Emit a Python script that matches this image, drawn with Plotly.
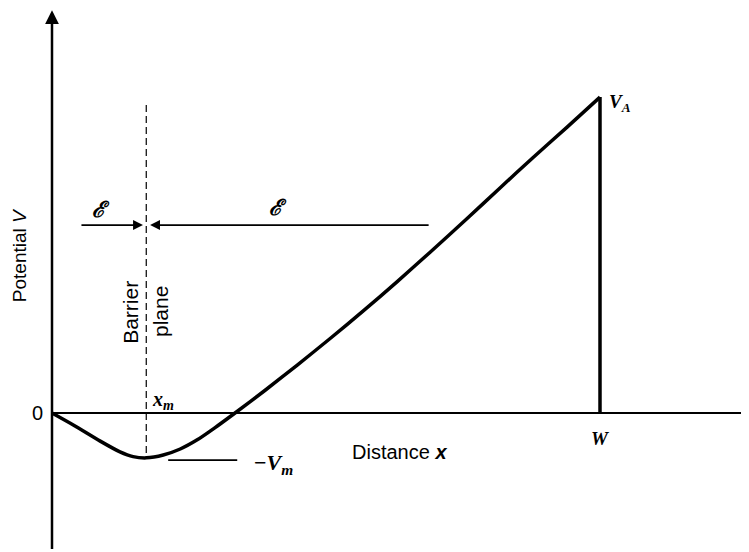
import plotly.graph_objects as go

# potential profile (x in units of W/10, V in units of V_A/10)
curve_x = [0, 0.42, 0.88, 1.24, 1.48, 1.72, 2.03, 2.34, 2.65, 2.97, 3.34,
           3.89, 4.47, 5.07, 5.68, 6.30, 6.90, 7.57, 8.18, 8.78, 9.40, 10.0]
curve_y = [0, -0.41, -0.89, -1.23, -1.38, -1.42, -1.33, -1.14, -0.85, -0.47, 0,
           0.72, 1.51, 2.35, 3.23, 4.16, 5.09, 6.15, 7.13, 8.09, 9.05, 10.0]

x_m = 1.72
v_m = -1.42
w = 10.0
v_a = 10.0

# arrow positions for the field labels
field_y = 5.95
left_arrow = [0.51, 1.66]
right_arrow = [6.90, 1.79]

SANS = "Liberation Sans"
SERIF = "Liberation Serif"

fig = go.Figure()

fig.add_trace(go.Scatter(
    x=curve_x, y=curve_y, mode="lines",
    line=dict(color="black", width=3.5, shape="spline", smoothing=0.7),
    hoverinfo="skip", showlegend=False,
))
# drop at the anode
fig.add_trace(go.Scatter(
    x=[w, w], y=[v_a, 0], mode="lines",
    line=dict(color="black", width=3.5), hoverinfo="skip", showlegend=False,
))
# barrier plane
fig.add_trace(go.Scatter(
    x=[x_m, x_m], y=[9.75, v_m], mode="lines",
    line=dict(color="black", width=1.2, dash="7px,4px"),
    hoverinfo="skip", showlegend=False,
))
# -V_m marker line
fig.add_trace(go.Scatter(
    x=[2.12, 3.38], y=[v_m - 0.07, v_m - 0.07], mode="lines",
    line=dict(color="black", width=1.8), hoverinfo="skip", showlegend=False,
))

arrow = dict(xref="x", yref="y", axref="x", ayref="y", text="",
             showarrow=True, arrowcolor="black")
annotations = [
    # axes
    dict(arrow, x=0, y=12.75, ax=0, ay=-4.35, arrowhead=2, arrowsize=1.1, arrowwidth=2.5),
    dict(arrow, x=12.65, y=0, ax=0, ay=0, arrowhead=6, arrowsize=0.8, arrowwidth=2.2),
    # field arrows
    dict(arrow, x=left_arrow[1], y=field_y, ax=left_arrow[0], ay=field_y,
         arrowhead=2, arrowsize=1.1, arrowwidth=1.8),
    dict(arrow, x=right_arrow[1], y=field_y, ax=right_arrow[0], ay=field_y,
         arrowhead=2, arrowsize=1.1, arrowwidth=1.8),
]


def label(text, x, y, size=20, family=SANS, angle=0, **kw):
    return dict(text=text, x=x, y=y, xref="x", yref="y", showarrow=False,
                textangle=angle, font=dict(family=family, size=size, color="black"), **kw)


annotations += [
    label("Potential <i>V</i>", -0.60, 5.0, size=19, angle=-90),
    label("Distance <b><i>x</i></b>", 6.35, -1.25),
    label("0", -0.12, 0.0, xanchor="right"),
    label("Barrier", 1.44, 3.2, size=21, angle=-90),
    label("plane", 1.99, 3.2, size=21, angle=-90),
    label("<b><i>x<sub>m</sub></i></b>", 2.03, 0.38, family=SERIF),
    label("<b>\u2212<i>V<sub>m</sub></i></b>", 4.05, -1.6, family=SERIF, size=22),
    label("<b><i>W</i></b>", w, -0.8, family=SERIF, size=19),
    label("<b><i>V<sub>A</sub></i></b>", 10.36, 9.8, family=SERIF, size=19),
    label("<b><i>\u2130</i></b>", 0.89, 6.45, family=SERIF, size=22),
    label("<b><i>\u2130</i></b>", 4.12, 6.5, family=SERIF, size=22),
]

# page has an 8px body margin, so the figure is sized to the remaining space
fig.update_layout(
    width=741, height=544,
    margin=dict(l=0, r=0, t=0, b=0),
    paper_bgcolor="white", plot_bgcolor="white",
    xaxis=dict(range=[-0.803, 12.719], visible=False, fixedrange=True),
    yaxis=dict(range=[-4.40, 12.82], visible=False, fixedrange=True),
    annotations=annotations,
    showlegend=False,
)

fig.write_html("out.html")
